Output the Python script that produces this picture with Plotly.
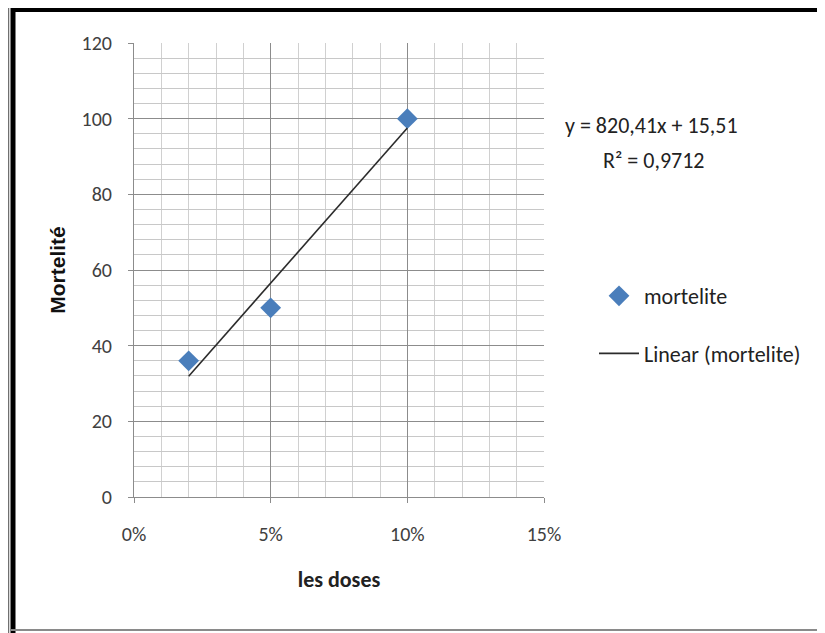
import numpy as np
import plotly.graph_objects as go

# ---- data ----
doses = [0.02, 0.05, 0.10]
mortalite = [36, 50, 100]
x_ticks = [0, 0.05, 0.10, 0.15]
x_tick_labels = ["0%", "5%", "10%", "15%"]
y_ticks = [0, 20, 40, 60, 80, 100, 120]
equation_text = "y = 820,41x + 15,51"
r2_text = "R² = 0,9712"

# linear trend (least squares on the data)
slope, intercept = np.polyfit(doses, mortalite, 1)
trend_x = [min(doses), max(doses)]
trend_y = [slope * v + intercept for v in trend_x]

OFF = 8  # page body margin
W, H = 825 - OFF, 633 - OFF
L, R, T, B = 134 - OFF, 544 - OFF, 43 - OFF, 497 - OFF  # plot area in figure pixels

def px(xp):  # page pixel -> paper
    return (xp - OFF - L) / (R - L)

def py(yp):
    return (B - (yp - OFF)) / (B - T)

FONT = "Carlito, Lato, 'Open Sans', sans-serif"
TXT = "#404040"

fig = go.Figure()
fig.add_trace(go.Scatter(
    x=doses, y=mortalite, mode="markers", name="mortelite",
    marker=dict(symbol="diamond", size=16, color="#4A7EBB"),
    legendgroup="a",
))
fig.add_trace(go.Scatter(
    x=trend_x, y=trend_y, mode="lines", name="Linear (mortelite)",
    line=dict(color="#2b2b2b", width=1.6),
    legendgroup="b",
))

shapes = [
    dict(type="line", xref="paper", yref="paper", x0=px(8.5), x1=px(830), y0=py(4.5), y1=py(4.5),
         line=dict(color="#707070", width=1.5)),
    dict(type="line", xref="paper", yref="paper", x0=px(8.5), x1=px(8.5), y0=py(4.5), y1=py(640),
         line=dict(color="#707070", width=1.5)),
    dict(type="line", xref="paper", yref="paper", x0=px(11), x1=px(830), y0=py(9.5), y1=py(9.5),
         line=dict(color="#000000", width=5)),
    dict(type="line", xref="paper", yref="paper", x0=px(13), x1=px(13), y0=py(7), y1=py(640),
         line=dict(color="#000000", width=5)),
    dict(type="line", xref="paper", yref="paper", x0=px(11), x1=px(830), y0=py(630), y1=py(630),
         line=dict(color="#8a8a8a", width=2)),
]

annotations = [
    dict(text=equation_text, xref="paper", yref="paper", x=px(651), y=py(126),
         showarrow=False, font=dict(family=FONT, size=22, color="#222"), xanchor="center", yanchor="middle"),
    dict(text=r2_text, xref="paper", yref="paper", x=px(653), y=py(160),
         showarrow=False, font=dict(family=FONT, size=22, color="#222"), xanchor="center", yanchor="middle"),
]

fig.update_layout(
    width=W, height=H,
    margin=dict(l=L, r=W - R, t=T, b=H - B),
    paper_bgcolor="white", plot_bgcolor="white",
    font=dict(family=FONT, color=TXT, size=17),
    showlegend=True,
    legend=dict(x=px(594), y=py(275), xanchor="left", yanchor="top",
                font=dict(family=FONT, size=22, color="#222"),
                tracegroupgap=26, bgcolor="rgba(0,0,0,0)", itemwidth=40),
    shapes=shapes,
    annotations=annotations,
    xaxis=dict(
        range=[0, 0.15], tickvals=x_ticks, ticktext=x_tick_labels,
        showgrid=True, gridcolor="#8c8c8c", gridwidth=1,
        minor=dict(dtick=0.01, tick0=0, showgrid=True, gridcolor="#d0d0d0", gridwidth=1),
        showline=True, linecolor="#8c8c8c", linewidth=1,
        ticks="outside", ticklen=5, tickcolor="#8c8c8c",
        zeroline=False, fixedrange=True, ticklabelstandoff=14,
        tickfont=dict(family=FONT, size=20, color=TXT),
        title=dict(text="<b>les doses</b>", font=dict(family=FONT, size=22, color="#222"), standoff=26),
    ),
    yaxis=dict(
        range=[0, 120], tickvals=y_ticks,
        showgrid=True, gridcolor="#8c8c8c", gridwidth=1,
        minor=dict(dtick=4, tick0=0, showgrid=True, gridcolor="#c8c8c8", gridwidth=1),
        showline=True, linecolor="#8c8c8c", linewidth=1,
        ticks="outside", ticklen=5, tickcolor="#8c8c8c",
        zeroline=False, fixedrange=True, ticklabelstandoff=12,
        tickfont=dict(family=FONT, size=20, color=TXT),
        title=dict(text="<b>Mortelité</b>", font=dict(family="Liberation Sans, Arial, sans-serif", size=21, color="#111"), standoff=10),
    ),
)

fig.write_html("out.html")
